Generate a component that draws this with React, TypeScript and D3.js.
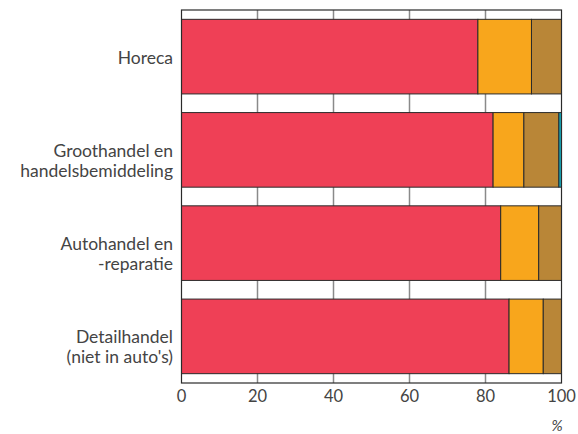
import React from "react";
import * as d3 from "d3";

const categories = [
  ["Horeca"],
  ["Groothandel en", "handelsbemiddeling"],
  ["Autohandel en", "-reparatie"],
  ["Detailhandel", "(niet in auto's)"],
];
const seriesA = [78, 82, 84, 86.2];
const seriesB = [14.1, 8.1, 10, 9];
const seriesC = [7.9, 9.2, 6, 4.8];
const seriesD = [0, 0.7, 0, 0];
const colors = ["#ef4056", "#f8a61c", "#b98637", "#16a8b8"];
const ticks = [0, 20, 40, 60, 80, 100];

export default function App() {
  const W = 578, H = 434;
  const left = 181.5, right = 561.5, top = 10, bottom = 383;
  const x = d3.scaleLinear().domain([0, 100]).range([left, right]);
  const y = d3
    .scaleBand<number>()
    .domain(d3.range(categories.length))
    .range([top, bottom])
    .paddingInner(0.2)
    .paddingOuter(0.1);
  const rows = categories.map((_, i) => [seriesA[i], seriesB[i], seriesC[i], seriesD[i]]);
  const stacked = d3.stack<number[]>().keys([0, 1, 2, 3] as any).value((d, k) => d[k as any])(rows);
  const font = "Lato, sans-serif";
  return (
    <svg width={W} height={H} style={{ position: "absolute", left: 0, top: 0 }}>
      <rect x={0} y={0} width={W} height={H} fill="#fff" />
      {ticks.slice(1, -1).map((t) => (
        <line key={t} x1={x(t)} x2={x(t)} y1={top} y2={bottom} stroke="#8a8a8a" strokeWidth={1.5} />
      ))}
      {stacked.map((s, si) =>
        s.map((d, i) =>
          d[1] - d[0] > 0 ? (
            <rect
              key={si + "-" + i}
              x={x(d[0])}
              y={y(i)!}
              width={x(d[1]) - x(d[0])}
              height={y.bandwidth()}
              fill={colors[si]}
              stroke="#2a2a2a"
              strokeWidth={1}
            />
          ) : null
        )
      )}
      <rect x={left} y={top} width={right - left} height={bottom - top} fill="none" stroke="#2a2a2a" strokeWidth={1.2} />
      {ticks.map((t) => (
        <text key={t} x={x(t)} y={bottom + 18.5} textAnchor="middle" fontFamily={font} fontSize={16.5} fill="#444">
          {t}
        </text>
      ))}
      <text x={557} y={431} textAnchor="middle" fontFamily={font} fontSize={15} fontStyle="italic" fill="#444">
        %
      </text>
      {categories.map((lines, i) => {
        const cy = y(i)! + y.bandwidth() / 2;
        const lh = 20;
        return (
          <text key={i} textAnchor="end" fontFamily={font} fontSize={17.5} fill="#444">
            {lines.map((l, j) => (
              <tspan key={j} x={173} y={cy + 7 + j * lh}>
                {l}
              </tspan>
            ))}
          </text>
        );
      })}
    </svg>
  );
}
